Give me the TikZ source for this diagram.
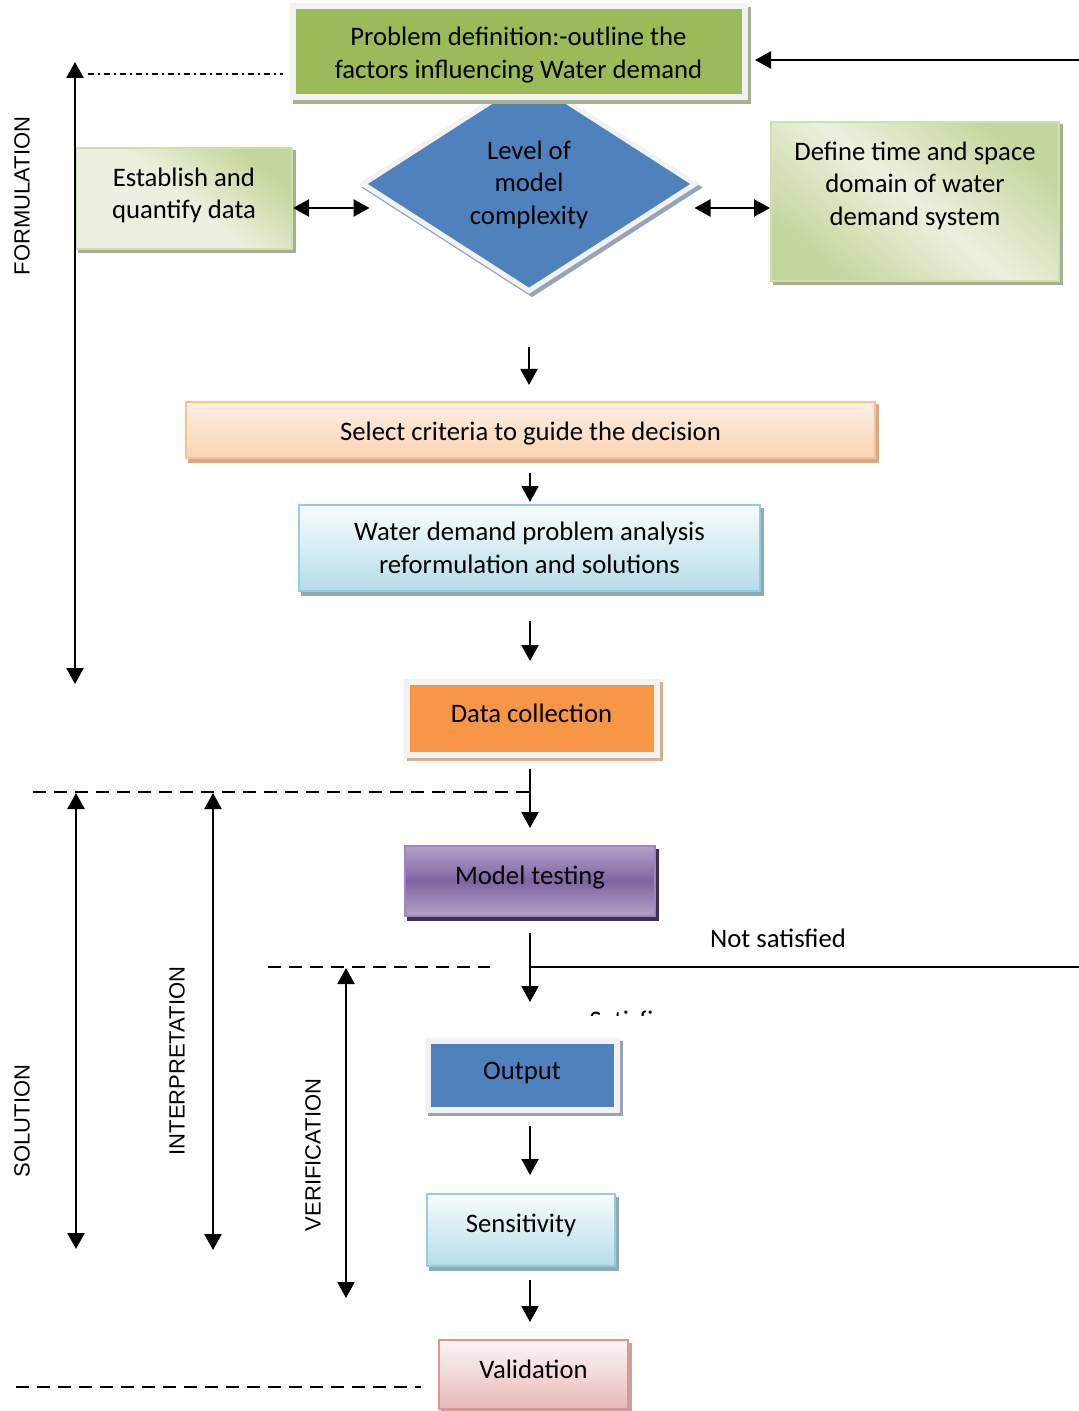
\documentclass[tikz,border=0pt]{standalone}
\usepackage{fontspec}
\setmainfont{Carlito}
\newfontfamily\arialf{Liberation Sans}
\usetikzlibrary{arrows.meta,shapes.geometric}
\definecolor{framegray}{HTML}{F2F2F2}
\definecolor{pdgreen}{HTML}{9BBB59}
\definecolor{pdshadow}{HTML}{A9B293}
\definecolor{dblue}{HTML}{4F81BD}
\definecolor{bshadow}{HTML}{97A4B7}
\definecolor{gdark}{HTML}{C3D69B}
\definecolor{glight}{HTML}{EBF1DE}
\definecolor{gborder}{HTML}{D0DFB0}
\definecolor{gshadow}{HTML}{A6AF92}
\definecolor{ptop}{HTML}{FDEFE4}
\definecolor{pbot}{HTML}{FBD4B4}
\definecolor{pborder}{HTML}{FAC090}
\definecolor{pshadow}{HTML}{D3A98A}
\definecolor{btop}{HTML}{F8FCFD}
\definecolor{bbot}{HTML}{B6DDE8}
\definecolor{bborder}{HTML}{93CDDD}
\definecolor{lbshadow}{HTML}{8FAAB3}
\definecolor{dorange}{HTML}{F79646}
\definecolor{oshadow}{HTML}{D6AE92}
\definecolor{mlight}{HTML}{B3A2C7}
\definecolor{mdark}{HTML}{8064A2}
\definecolor{mborder}{HTML}{9B86BD}
\definecolor{mshadow}{HTML}{3F3151}
\definecolor{rtop}{HTML}{FDF6F6}
\definecolor{rbot}{HTML}{E6B9B8}
\definecolor{rborder}{HTML}{D99694}
\definecolor{rshadow}{HTML}{C4A3A2}
\newcommand\txtup[2]{\raisebox{#1}[\height][\depth]{#2}}
\newcommand\mylines[1]{\begin{tabular}{@{}c@{}}#1\end{tabular}}
\begin{document}
\begin{tikzpicture}[x=0.5pt,y=-0.5pt,
  base/.style={font=\fontsize{13.35}{16.2}\selectfont, align=center, inner sep=0pt},
  shad/.style={preaction={fill=#1,draw=#1,transform canvas={shift={(1.5pt,-1.75pt)}}}},
  framebox/.style={base, draw=framegray, line width=3pt},
  gbox/.style={base, line width=1pt},
  lab/.style={font=\arialf\fontsize{11}{13}\selectfont, rotate=90, inner sep=0pt},
  arr/.style={-{Triangle[length=8pt,width=8.5pt]}, line width=1.15pt},
  dbl/.style={{Triangle[length=8pt,width=8.5pt]}-{Triangle[length=8pt,width=8.5pt]}, line width=1.15pt},
  dsh/.style={line width=0.75pt, dash pattern=on 6.5pt off 4pt},
  dshdot/.style={line width=0.6pt, dash pattern=on 3pt off 2pt on 1pt off 2pt},
]
\useasboundingbox (0,0) rectangle (1079,1411);

% diamond (behind the problem box)
\node[diamond, base, fill=dblue, draw=framegray, line width=2.5pt, shad=bshadow,
      minimum width=167pt, minimum height=102pt] (dia) at (529,184)
      {\txtup{-0.75pt}{\mylines{Level of\\model\\complexity}}};

% problem definition
\node[framebox, fill=pdgreen, shad=pdshadow, minimum width=226pt, minimum height=45.5pt]
      (pd) at (518.5,52) {\txtup{-1.75pt}{\mylines{Problem definition:-outline the\\factors influencing Water demand}}};

% establish
\node[gbox, draw=gborder, top color=gdark, bottom color=glight, middle color=glight, shading angle=-40,
      shad=gshadow, minimum width=108pt, minimum height=50.5pt] (est) at (184,198.5)
      {\txtup{1.25pt}{\mylines{Establish and\\quantify data}}};

% define
\node[gbox, draw=gborder, top color=gdark, bottom color=gdark, middle color=glight, shading angle=-40,
      shad=gshadow, minimum width=144pt, minimum height=79.5pt] (def) at (915,201.5)
      {\txtup{7.5pt}{\mylines{Define time and space\\domain of water\\demand system}}};

% select criteria
\node[gbox, draw=pborder, top color=ptop, bottom color=pbot, shad=pshadow,
      minimum width=344.5pt, minimum height=28pt] (sel) at (530.5,430)
      {\txtup{-2pt}{Select criteria to guide the decision}};

% water demand
\node[gbox, draw=bborder, top color=btop, bottom color=bbot, shad=lbshadow,
      minimum width=230.5pt, minimum height=43pt] (wat) at (529.5,548)
      {\txtup{-1.25pt}{\mylines{Water demand problem analysis\\reformulation and solutions}}};

% data collection
\node[framebox, fill=dorange, shad=oshadow, minimum width=125pt, minimum height=36.5pt]
      (dc) at (531.5,718) {\txtup{2.5pt}{Data collection}};

% model testing
\node[gbox, draw=mborder, top color=mlight, bottom color=mlight, middle color=mdark, shad=mshadow,
      minimum width=125pt, minimum height=35pt] (mt) at (530,881)
      {\txtup{1.5pt}{Model testing}};

% output
\node[framebox, fill=dblue, shad=bshadow, minimum width=94.5pt, minimum height=34.5pt]
      (out) at (522,1075) {\txtup{1pt}{Output}};

% sensitivity
\node[gbox, draw=bborder, top color=btop, bottom color=bbot, shad=lbshadow,
      minimum width=94pt, minimum height=36pt] (sens) at (521,1230)
      {\txtup{2.5pt}{Sensitivity}};

% validation
\node[gbox, draw=rborder, top color=rtop, bottom color=rbot, shad=rshadow,
      minimum width=94.5pt, minimum height=34.5pt] (val) at (533.5,1374.5)
      {\txtup{2.75pt}{Validation}};

% side arrows at the diamond
\draw[dbl] ([yshift=-4.75pt]est.east) -- ([yshift=-4.75pt,xshift=5pt]est.east -| dia.west);
\draw[dbl] ([yshift=-3.25pt,xshift=-2pt]def.west -| dia.east) -- ([yshift=-3.25pt]def.west);

% feedback arrow into the problem box
\coordinate (tr) at (1079,60);
\draw[arr, shorten >=3.75pt] (tr) -- (tr -| pd.east);

% main flow
\coordinate (ax) at (530,0);
\draw[arr, shorten <=26.5pt, shorten >=8pt] (dia.south) -- (dia.south |- sel.north);
\draw[arr, shorten <=7pt, shorten >=1pt] (ax |- sel.south) -- (ax |- wat.north);
\draw[arr, shorten <=14.5pt, shorten >=8.75pt] (ax |- wat.south) -- (ax |- dc.north);
\draw[arr, shorten <=5.75pt, shorten >=8.5pt] (ax |- dc.south) -- (ax |- mt.north);
\draw[arr, shorten <=8pt, shorten >=17.75pt] (ax |- mt.south) -- (ax |- out.north);
\draw[arr, shorten <=6.75pt, shorten >=9pt] (ax |- out.south) -- (ax |- sens.north);
\draw[arr, shorten <=6.5pt, shorten >=8.5pt] (ax |- sens.south) -- (ax |- val.north);

% not satisfied branch
\coordinate (nsR) at (1079,967);
\draw[line width=1pt] (nsR -| ax) -- (nsR);
\node[base] (ns) at (778,938) {Not satisfied};
\begin{scope}
  \clip (580,1000) rectangle (658,1015);
  \node[base, anchor=base west] (sat) at (589,1029) {Satisfied};
\end{scope}

% dashed separators
\coordinate (d1) at (33,792);
\draw[dsh] (d1) -- (d1 -| ax);
\coordinate (d2a) at (268,967);
\coordinate (d2b) at (490,967);
\draw[dsh] (d2a) -- (d2b);
\coordinate (d3) at (16,1387);
\draw[dsh, shorten >=8.5pt] (d3) -- (d3 -| val.west);
\coordinate (dd1) at (88,74);
\coordinate (dd2) at (283,74);
\draw[dshdot] (dd1) -- (dd2);

% phase arrows
\coordinate (fT) at (75,62);   \coordinate (fB) at (75,684);
\draw[dbl] (fT) -- (fB);
\coordinate (sT) at (76,793);  \coordinate (sB) at (76,1249);
\draw[dbl] (sT) -- (sB);
\coordinate (iT) at (213,793); \coordinate (iB) at (213,1250);
\draw[dbl] (iT) -- (iB);
\coordinate (vT) at (346,968); \coordinate (vB) at (346,1298);
\draw[dbl] (vT) -- (vB);

\node[lab] (lform) at (22,196) {FORMULATION};
\node[lab] (lsol) at (22,1121) {SOLUTION};
\node[lab] (lint) at (177,1061) {INTERPRETATION};
\node[lab] (lver) at (313,1155) {VERIFICATION};
\end{tikzpicture}
\end{document}
